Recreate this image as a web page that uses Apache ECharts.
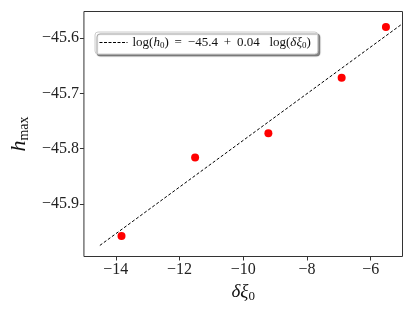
<!DOCTYPE html>
<html><head><meta charset="utf-8">
<script src="https://cdn.jsdelivr.net/npm/echarts@6/dist/echarts.min.js"></script>
<style>html,body{margin:0;padding:0;background:#fff}#c{width:415px;height:311px}</style>
</head><body><div id="c"></div>
<script>
const pointX = [-13.82, -11.51, -9.21, -6.91, -5.52];
const pointY = [-45.958, -45.816, -45.772, -45.672, -45.580];
const fitX = [-14.5, -5.0];
const fitY = [-45.975, -45.574];
const xTicks = [-14, -12, -10, -8, -6];
const yTicks = [-45.9, -45.8, -45.7, -45.6];
const fitName = 'fit';

const font = '"Liberation Serif", "DejaVu Serif", serif';
const minus = v => (v < 0 ? '\u2212' : '') + Math.abs(v);
const chart = echarts.init(document.getElementById('c'), null, {renderer: 'canvas'});
chart.setOption({
  animation: false,
  backgroundColor: '#fff',
  grid: {left: 77.5, right: 12.5, top: 11.5, bottom: 54.5, show: true, borderColor: '#333', borderWidth: 1, backgroundColor: 'transparent'},
  legend: {
    data: [{name: fitName, itemStyle: {opacity: 0}, lineStyle: {width: 1, type: [3, 1.5], color: '#000'}}],
    left: 95, top: 32, orient: 'horizontal',
    itemWidth: 28, itemHeight: 10, itemGap: 6,
    padding: [4, 7, 4, 4],
    backgroundColor: '#fff', borderColor: '#ccc', borderWidth: 1, borderRadius: 3,
    shadowColor: 'rgba(0,0,0,0.45)', shadowOffsetX: 2, shadowOffsetY: 2, shadowBlur: 1,
    formatter: () => '{n|log(}{i|h}{s|0}{n|)\u2009 = \u2009\u221245.4\u2009 + \u20090.04\u2002 log(}{i|\u03b4\u03be}{s|0}{n|)}',
    textStyle: {
      color: '#111', fontFamily: font,
      rich: {
        n: {fontSize: 13, fontFamily: font, color: '#111'},
        i: {fontSize: 13, fontFamily: font, fontStyle: 'italic', color: '#111'},
        s: {fontSize: 9, fontFamily: font, color: '#111', verticalAlign: 'bottom', padding: [6, 0, 0, 0]}
      }
    }
  },
  xAxis: {
    type: 'value', min: -15, max: -5, interval: 1,
    name: '{i|\u03b4\u03be}{s|0}', nameLocation: 'middle', nameGap: 22,
    nameTextStyle: {rich: {
      i: {fontSize: 19, fontFamily: font, fontStyle: 'italic', color: '#111'},
      s: {fontSize: 13, fontFamily: font, color: '#111', padding: [10, 0, 0, 0]}
    }},
    axisLine: {show: false},
    axisTick: {show: true, length: 4, lineStyle: {color: '#333'}, customValues: xTicks},
    splitLine: {show: false},
    axisLabel: {fontSize: 16, fontFamily: font, color: '#222', margin: 5,
      customValues: xTicks, formatter: v => minus(v)}
  },
  yAxis: {
    type: 'value', min: -45.995, max: -45.552,
    name: '{i|h}{s|max}', nameLocation: 'middle', nameGap: 52, nameRotate: 90,
    nameTextStyle: {rich: {
      i: {fontSize: 22, fontFamily: font, fontStyle: 'italic', color: '#111'},
      s: {fontSize: 14, fontFamily: font, color: '#111', padding: [10, 0, 0, 0]}
    }},
    axisLine: {show: false},
    axisTick: {show: true, length: 4, lineStyle: {color: '#333'}, customValues: yTicks},
    splitLine: {show: false},
    axisLabel: {fontSize: 16, fontFamily: font, color: '#222', margin: 5,
      formatter: v => minus(Math.round(v * 10) / 10),
      customValues: yTicks},
  },
  series: [
    {name: fitName, type: 'line', data: fitX.map((x, i) => [x, fitY[i]]), symbol: 'none',
     lineStyle: {color: '#000', width: 1, type: [3, 2]}, itemStyle: {color: '#000'}},
    {name: 'pts', type: 'scatter', data: pointX.map((x, i) => [x, pointY[i]]),
     symbolSize: 8, itemStyle: {color: '#ff0000', opacity: 1}}
  ]
});
</script></body></html>
